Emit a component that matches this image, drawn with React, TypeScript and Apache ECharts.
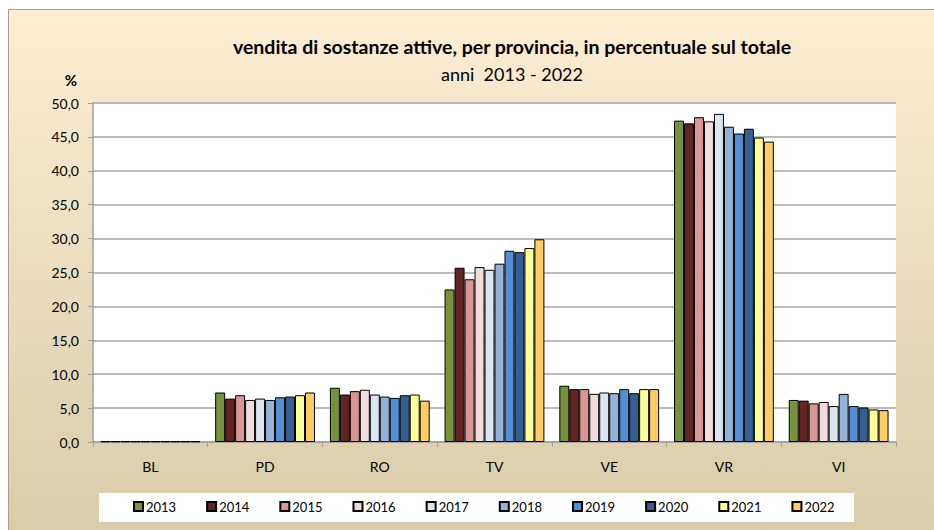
import React, { useEffect, useRef } from "react";
import * as echarts from "echarts";

const categories = ["BL", "PD", "RO", "TV", "VE", "VR", "VI"];
const years = ["2013", "2014", "2015", "2016", "2017", "2018", "2019", "2020", "2021", "2022"];
const yearColors = ["#76923C", "#632423", "#D99694", "#F2DCDB", "#DBE5F1", "#95B3D7", "#558ED5", "#366092", "#FFFF99", "#FFCC66"];

// values per year, in order of categories BL, PD, RO, TV, VE, VR, VI
const v2013 = [0.1, 7.3, 8.0, 22.5, 8.3, 47.4, 6.2];
const v2014 = [0.1, 6.4, 7.0, 25.7, 7.8, 47.0, 6.1];
const v2015 = [0.1, 6.9, 7.5, 24.0, 7.8, 47.9, 5.7];
const v2016 = [0.1, 6.2, 7.7, 25.8, 7.1, 47.3, 5.9];
const v2017 = [0.1, 6.4, 7.0, 25.4, 7.3, 48.4, 5.3];
const v2018 = [0.1, 6.2, 6.7, 26.3, 7.2, 46.5, 7.1];
const v2019 = [0.1, 6.6, 6.5, 28.2, 7.8, 45.5, 5.3];
const v2020 = [0.1, 6.7, 6.9, 28.0, 7.2, 46.2, 5.1];
const v2021 = [0.1, 6.9, 7.0, 28.6, 7.8, 44.9, 4.8];
const v2022 = [0.1, 7.3, 6.1, 29.9, 7.8, 44.3, 4.7];
const seriesValues = [v2013, v2014, v2015, v2016, v2017, v2018, v2019, v2020, v2021, v2022];

const yTicks = { min: 0, max: 50, interval: 5 };

const FONT = "Lato, 'Open Sans', sans-serif";

export default function App() {
  const ref = useRef<HTMLDivElement>(null);
  useEffect(() => {
    if (!ref.current) return;
    const chart = echarts.init(ref.current, undefined, { renderer: "svg" });
    chart.setOption({
      animation: false,
      textStyle: { fontFamily: FONT },
      graphic: [
        {
          type: "rect",
          z: -10,
          silent: true,
          shape: { x: 8.5, y: 9.5, width: 940, height: 540 },
          style: {
            fill: new echarts.graphic.LinearGradient(0, 0, 0, 1, [
              { offset: 0, color: "#FDEED3" },
              { offset: 1, color: "#D7CBA8" },
            ]),
            stroke: "#A39C91",
            lineWidth: 1,
          },
        },
        {
          type: "rect",
          z: -5,
          silent: true,
          shape: { x: 99, y: 493, width: 755, height: 29 },
          style: { fill: "#FFFFFF" },
        },
        {
          type: "text",
          x: 512,
          y: 46,
          style: {
            text: "vendita di sostanze attive, per provincia, in percentuale sul totale",
            font: "bold 19.5px " + FONT,
            fill: "#000",
            align: "center",
            verticalAlign: "middle",
          },
        },
        {
          type: "text",
          x: 512,
          y: 74,
          style: {
            text: "anni  2013 - 2022",
            font: "18px " + FONT,
            fill: "#000",
            align: "center",
            verticalAlign: "middle",
          },
        },
        {
          type: "text",
          x: 71,
          y: 80,
          style: {
            text: "%",
            font: "bold 15px " + FONT,
            fill: "#000",
            align: "center",
            verticalAlign: "middle",
          },
        },
      ],
      grid: {
        left: 93,
        right: 38,
        top: 103,
        bottom: 88,
        show: true,
        backgroundColor: "#FFFFFF",
        borderWidth: 0,
      },
      legend: {
        data: years,
        top: 500,
        left: 133,
        padding: 0,
        itemWidth: 9,
        itemHeight: 9,
        itemGap: 30,
        icon: "rect",
        textStyle: { fontSize: 13, color: "#000", fontFamily: FONT, padding: [0, 0, 0, -2] },
      },
      xAxis: {
        type: "category",
        data: categories,
        axisLine: { show: true, lineStyle: { color: "#A0A0A0", width: 1.5 } },
        axisTick: { show: true, length: 5, lineStyle: { color: "#A0A0A0" } },
        axisLabel: { fontSize: 14, color: "#000", margin: 17, fontFamily: FONT },
      },
      yAxis: {
        type: "value",
        min: yTicks.min,
        max: yTicks.max,
        interval: yTicks.interval,
        axisLine: { show: true, lineStyle: { color: "#A0A0A0", width: 1.5 } },
        axisTick: { show: true, inside: false, length: 5, lineStyle: { color: "#A0A0A0" } },
        splitLine: { show: true, lineStyle: { color: "#A6A6A6", width: 1.5 } },
        axisLabel: {
          fontSize: 14,
          color: "#000",
          margin: 14,
          fontFamily: FONT,
          formatter: (v: number) => v.toFixed(1).replace(".", ","),
        },
      },
      series: years.map((y, i) => ({
        name: y,
        type: "bar",
        data: seriesValues[i],
        barGap: "0%",
        barCategoryGap: "13%",
        itemStyle: { color: yearColors[i], borderColor: "#000", borderWidth: 1 },
      })),
    });
    return () => chart.dispose();
  }, []);
  return (
    <div
      ref={ref}
      style={{ position: "absolute", left: 0, top: 0, width: 934, height: 530 }}
    />
  );
}
